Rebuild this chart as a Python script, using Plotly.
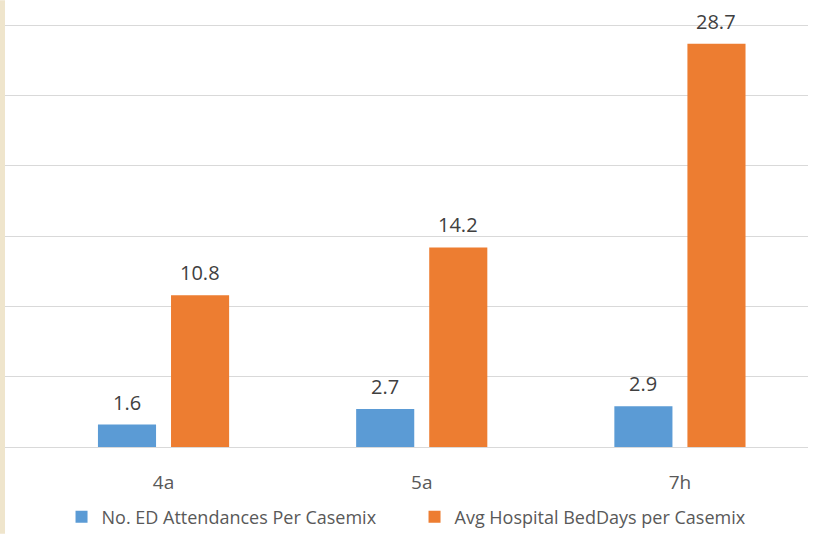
import plotly.graph_objects as go

categories = ["4a", "5a", "7h"]
ed_attendances = [1.6, 2.7, 2.9]
bed_days = [10.8, 14.2, 28.7]
series_names = ["No. ED Attendances Per Casemix", "Avg Hospital BedDays per Casemix"]
colors = ["#5B9BD5", "#ED7D31"]

BAR_W = 0.225
GAP = 0.058
offsets = [-(BAR_W + GAP / 2), GAP / 2]
FONT = "Open Sans"

fig = go.Figure()
annotations = []
for name, vals, col, off in zip(series_names, [ed_attendances, bed_days], colors, offsets):
    fig.add_trace(go.Bar(
        x=categories, y=vals, name=name, marker=dict(color=col, line=dict(width=0)),
        width=BAR_W, offset=off, hoverinfo="skip",
    ))
    for i, v in enumerate(vals):
        annotations.append(dict(
            x=i + off + BAR_W / 2, y=v, xref="x", yref="y", text=f"{v:.1f}",
            showarrow=False, yanchor="bottom", yshift=7,
            font=dict(family=FONT, size=20, color="#404040"),
        ))

fig.update_layout(
    width=826, height=541,
    margin=dict(l=5, r=18, t=24, b=88),
    paper_bgcolor="white", plot_bgcolor="white",
    barmode="overlay",
    annotations=annotations,
    showlegend=True,
    legend=dict(orientation="h", x=0.51, xanchor="center", y=-0.1655, yanchor="middle",
                entrywidth=308, entrywidthmode="pixels",
                font=dict(family=FONT, size=18, color="#595959"), traceorder="normal"),
    xaxis=dict(range=[-0.614, 2.496], showgrid=False, showline=False, ticks="",
               ticklabelstandoff=22,
               tickfont=dict(family=FONT, size=19, color="#595959")),
    yaxis=dict(range=[0, 30.1], dtick=5, showgrid=True, gridcolor="#D9D9D9", gridwidth=1,
               zeroline=True, zerolinecolor="#D9D9D9", zerolinewidth=1,
               showticklabels=False, ticks=""),
    shapes=[dict(type="rect", xref="paper", yref="paper", x0=-5 / 803, x1=0,
                 y0=-88 / 429, y1=1 + 24 / 429, fillcolor="#EFE5CC", line=dict(width=0),
                 layer="below")],
)

fig.write_html("out.html")
